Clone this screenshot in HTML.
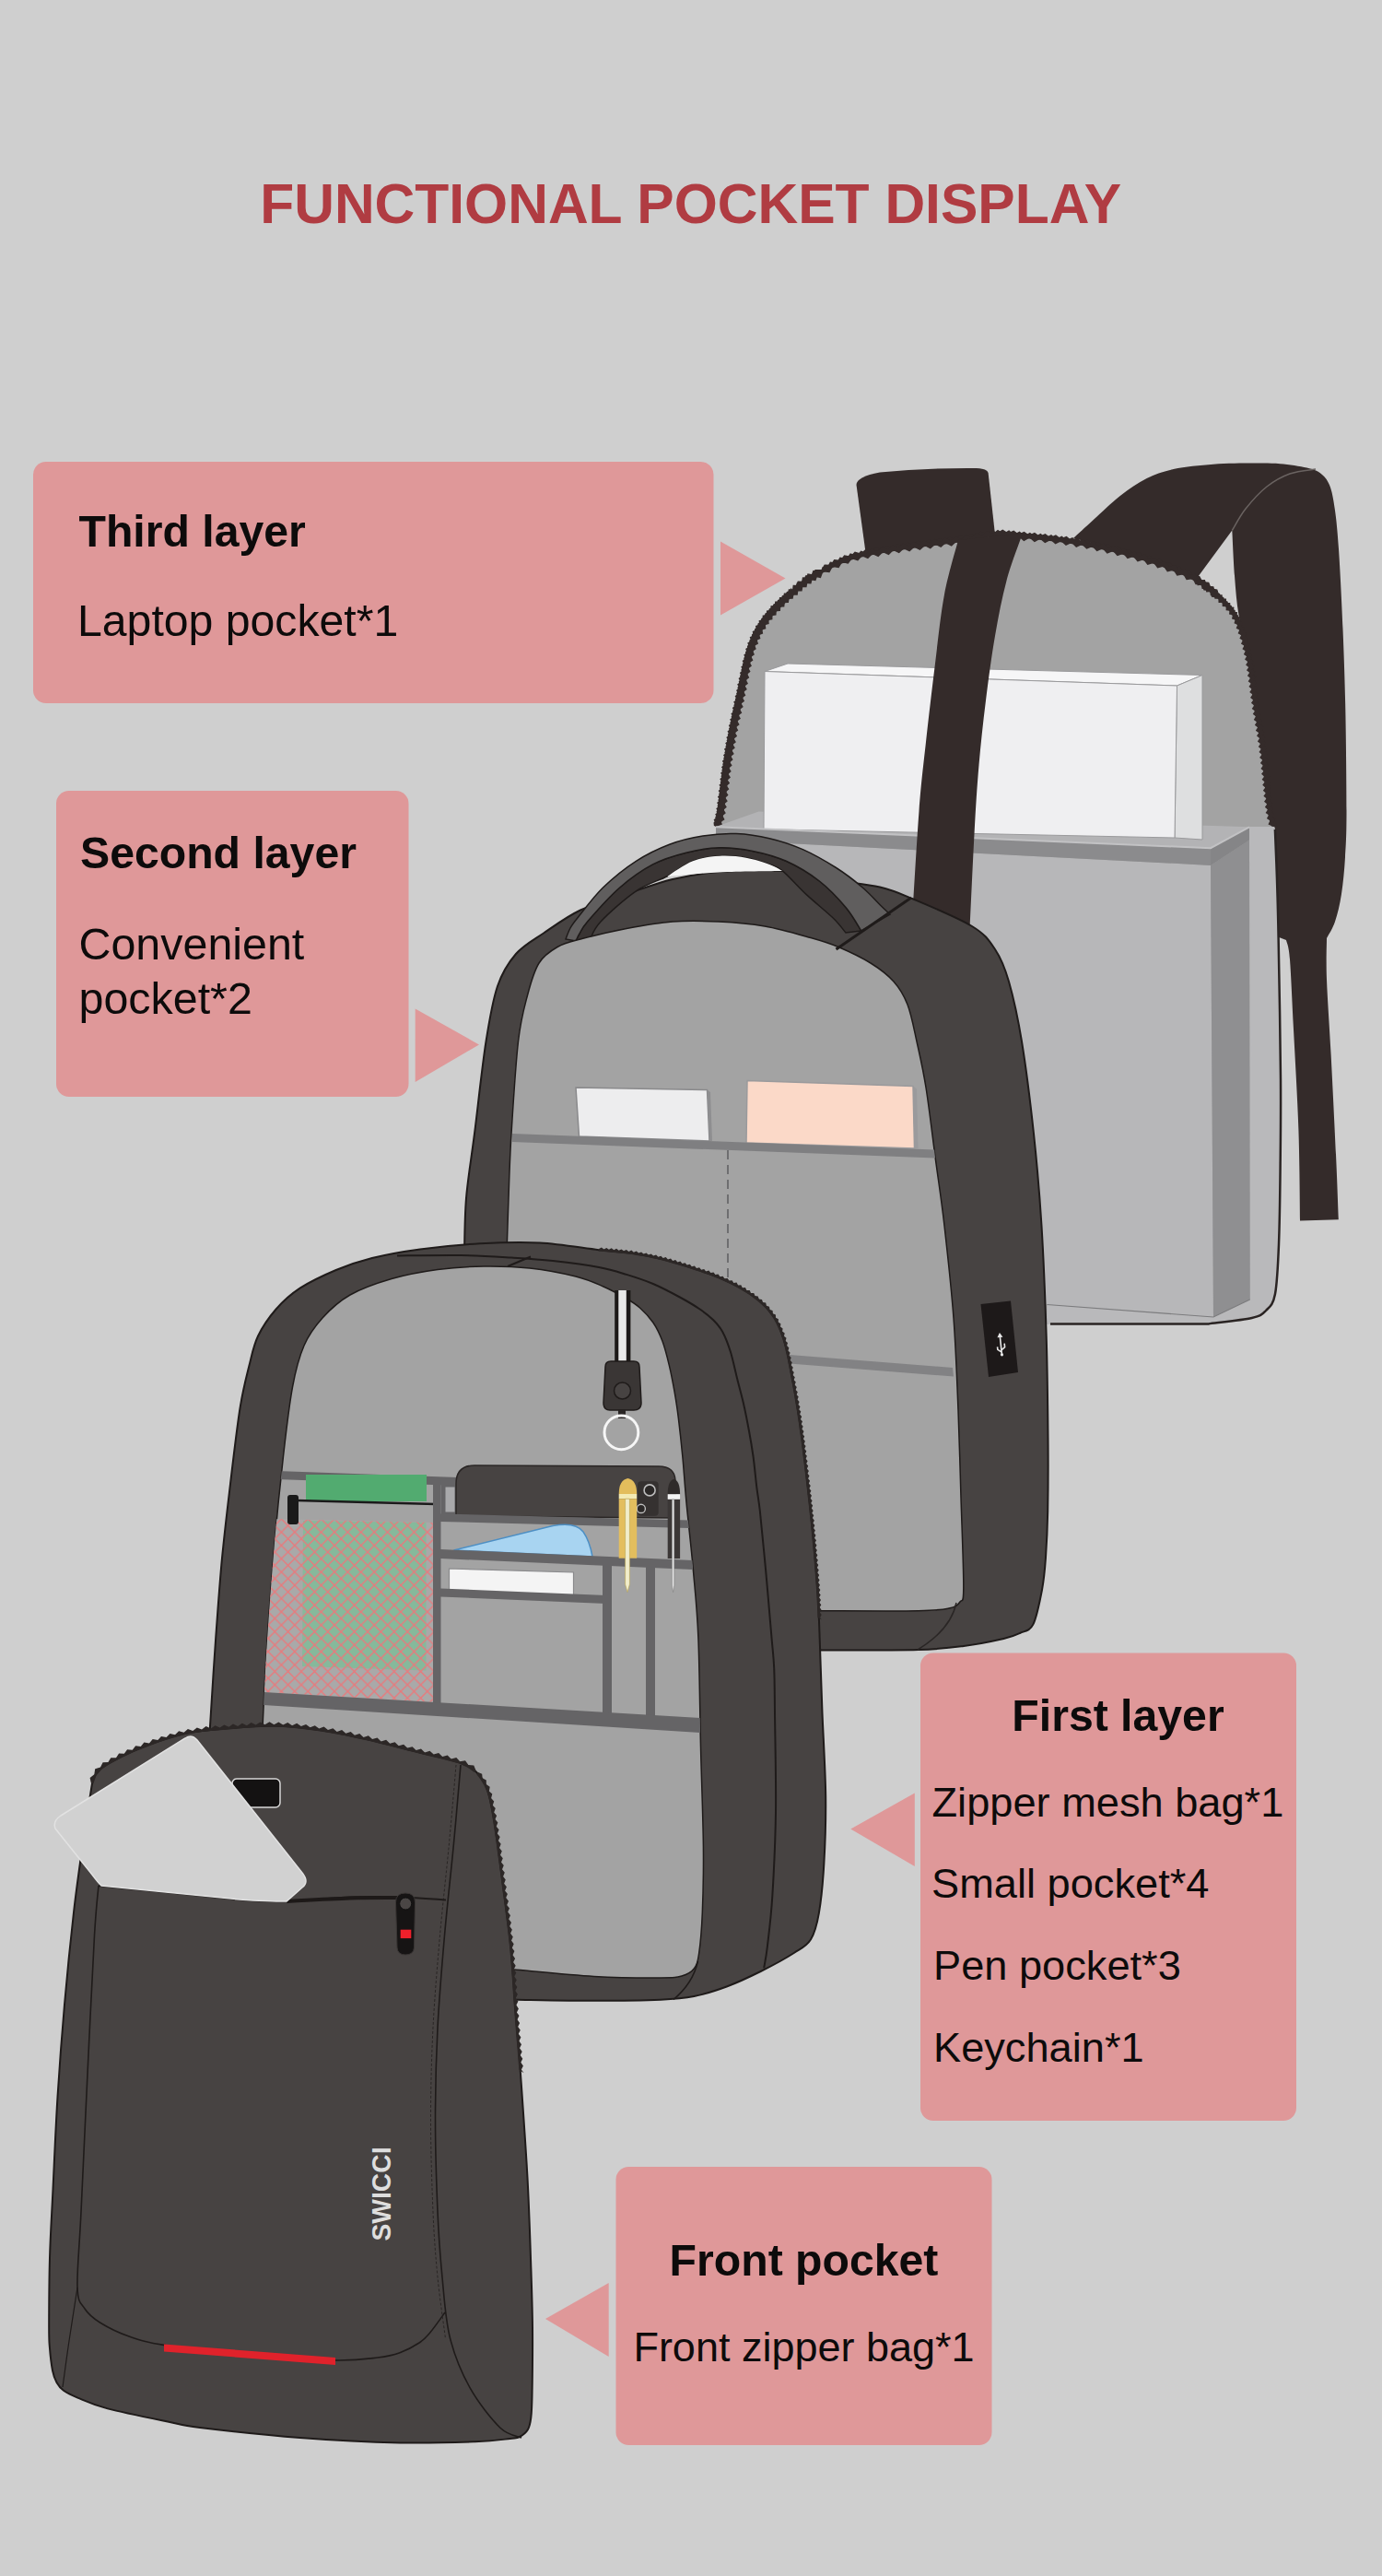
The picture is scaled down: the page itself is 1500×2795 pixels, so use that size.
<!DOCTYPE html>
<html lang="en"><head><meta charset="utf-8"><title>Functional pocket display</title>
<style>
html,body{margin:0;padding:0;background:#cfcfcf;}
body{width:1500px;height:2795px;overflow:hidden;font-family:"Liberation Sans",sans-serif;}
svg{display:block}
text{font-family:"Liberation Sans",sans-serif;}
.b{font-weight:700}
</style></head><body>
<svg width="1500" height="2795" viewBox="0 0 1500 2795">
<rect width="1500" height="2795" fill="#cfcfcf"/>
<g id="third">
<path d="M929.5 526Q930 517 955 512.5Q1005 507.5 1060 508Q1071.5 508.5 1072.6 513L1080 580L940 603Z" fill="#342b2a"/>
<path d="M1165 584C1168.6 580.7 1178.3 571.7 1186.8 564C1195.3 556.3 1206.1 545.4 1215.8 537.9C1225.5 530.4 1235 523.8 1244.7 519C1254.4 514.2 1261.7 511.6 1273.7 509C1285.8 506.4 1302.5 504.8 1317 503.7C1331.5 502.6 1348.4 502.7 1360.5 502.6C1372.6 502.5 1379.8 502.4 1389.4 503.2C1399.1 504 1411.2 505.8 1418.4 507.5C1425.7 509.2 1428.8 510.2 1432.9 513.3C1437 516.4 1440.3 519.8 1443 526.3C1445.7 532.8 1447.1 540.8 1448.8 552.4C1450.5 564 1451.5 574.1 1453 595.8C1454.5 617.5 1456.3 653.7 1457.5 682.6C1458.7 711.5 1459.6 736.5 1460.3 769.4C1461 802.3 1461.5 853.2 1461.5 880C1461.5 906.8 1460.9 915 1460 930C1459.1 945 1457.8 958.3 1456 970C1454.2 981.7 1451.7 992 1449 1000C1446.3 1008 1441.5 1015 1440 1018C1440 1025.5 1439.2 1042 1440 1063C1440.8 1084 1442.9 1112.4 1444.6 1144C1446.3 1175.6 1448.6 1222.8 1450 1252.7C1451.4 1282.6 1452.3 1311.5 1452.8 1323.3L1411 1324.4C1410.7 1307.9 1410.6 1260.2 1409.4 1225.6C1408.2 1191 1405.6 1147.8 1404 1117C1402.4 1086.2 1401.3 1057.2 1400 1041C1398.7 1024.8 1396.7 1023.5 1396 1020L1387.6 1016.7C1387.3 1006.3 1386.6 973.8 1386 954.3C1385.4 934.8 1385.2 912.4 1383.9 900C1382.6 887.6 1380.1 894.5 1377.9 880C1375.7 865.5 1373 831.3 1370.6 812.9C1368.2 794.5 1366.1 786.3 1363.4 769.4C1360.8 752.5 1357.8 728.4 1354.7 711.5C1351.6 694.6 1347 682.5 1344.6 668C1342.1 653.5 1341.2 640.1 1340 624.7C1338.8 609.3 1337.8 583.7 1337.3 575.5L1296.8 630.5C1290.7 627.5 1274.5 618.2 1260 612.5C1245.5 606.8 1225.8 600.8 1210 596C1194.2 591.2 1172.5 586 1165 584Z" fill="#342b2a"/>
<path d="M1337.3 575.5C1339.8 571.6 1345.7 559.9 1352 552C1358.3 544.1 1367 534.3 1375 528C1383 521.7 1391.2 517.2 1400 514C1408.8 510.8 1423.3 509.8 1428 509" fill="none" stroke="#6a6361" stroke-width="1.5"/>
<path d="M778 897C778.8 894.2 780.7 891.2 782.5 880C784.3 868.8 786.8 845 789 830C791.2 815 793.6 802.5 796 790C798.4 777.5 800.8 767.5 803.5 755C806.2 742.5 809.4 725 812 714.7C814.6 704.4 816.6 699.3 819.2 693C821.9 686.7 824.8 681.9 827.9 677.1C831 672.3 834.1 668.5 838 664.1C841.9 659.8 846.6 655.1 851 651C855.4 646.9 859.5 643.4 864.1 639.5C868.7 635.6 873.7 631.2 878.5 627.9C883.3 624.6 888.2 622.1 893 619.5C897.8 616.9 902.7 614.2 907.5 612C912.3 609.8 916.6 607.8 922 606C927.4 604.2 929.2 603.6 940 601.5C950.8 599.4 970 596 986.8 593.5C1003.6 591 1025.5 588.8 1041 586.5C1056.5 584.2 1068.5 580.8 1080 580C1091.5 579.2 1096.7 580.8 1110 582C1123.3 583.2 1143.3 584.9 1160 587.5C1176.7 590.1 1193.3 593.3 1210 597.5C1226.7 601.7 1245 607.1 1260 612.5C1275 617.9 1289.2 623.8 1300 630C1310.8 636.2 1317.9 642.9 1325 650C1332.1 657.1 1337.5 662.2 1342.5 672.5C1347.5 682.8 1351.2 695.4 1354.7 711.5C1358.2 727.6 1360.8 752.5 1363.4 769.4C1366.1 786.3 1368.2 794.5 1370.6 812.9C1373 831.3 1375.7 865.5 1377.9 880C1380.1 894.5 1382.6 887.6 1383.9 900C1385.2 912.4 1385.4 934.8 1386 954.3C1386.6 973.8 1386.9 980.6 1387.6 1016.7C1388.3 1052.8 1389.7 1129.3 1390 1171C1390.3 1212.7 1389.9 1237.2 1389.6 1267C1389.3 1296.8 1388.9 1327.2 1388 1350C1387.1 1372.8 1386.3 1392 1384 1404C1381.7 1416 1378.2 1417.7 1374 1422C1369.8 1426.3 1369.2 1427.6 1358.8 1430C1348.4 1432.4 1319.6 1435.3 1311.8 1436.4L1140 1436.4L778 1436Z" fill="#a3a3a3"/>
<clipPath id="cb3"><path d="M778 897C778.8 894.2 780.7 891.2 782.5 880C784.3 868.8 786.8 845 789 830C791.2 815 793.6 802.5 796 790C798.4 777.5 800.8 767.5 803.5 755C806.2 742.5 809.4 725 812 714.7C814.6 704.4 816.6 699.3 819.2 693C821.9 686.7 824.8 681.9 827.9 677.1C831 672.3 834.1 668.5 838 664.1C841.9 659.8 846.6 655.1 851 651C855.4 646.9 859.5 643.4 864.1 639.5C868.7 635.6 873.7 631.2 878.5 627.9C883.3 624.6 888.2 622.1 893 619.5C897.8 616.9 902.7 614.2 907.5 612C912.3 609.8 916.6 607.8 922 606C927.4 604.2 929.2 603.6 940 601.5C950.8 599.4 970 596 986.8 593.5C1003.6 591 1025.5 588.8 1041 586.5C1056.5 584.2 1068.5 580.8 1080 580C1091.5 579.2 1096.7 580.8 1110 582C1123.3 583.2 1143.3 584.9 1160 587.5C1176.7 590.1 1193.3 593.3 1210 597.5C1226.7 601.7 1245 607.1 1260 612.5C1275 617.9 1289.2 623.8 1300 630C1310.8 636.2 1317.9 642.9 1325 650C1332.1 657.1 1337.5 662.2 1342.5 672.5C1347.5 682.8 1351.2 695.4 1354.7 711.5C1358.2 727.6 1360.8 752.5 1363.4 769.4C1366.1 786.3 1368.2 794.5 1370.6 812.9C1373 831.3 1375.7 865.5 1377.9 880C1380.1 894.5 1382.6 887.6 1383.9 900C1385.2 912.4 1385.4 934.8 1386 954.3C1386.6 973.8 1386.9 980.6 1387.6 1016.7C1388.3 1052.8 1389.7 1129.3 1390 1171C1390.3 1212.7 1389.9 1237.2 1389.6 1267C1389.3 1296.8 1388.9 1327.2 1388 1350C1387.1 1372.8 1386.3 1392 1384 1404C1381.7 1416 1378.2 1417.7 1374 1422C1369.8 1426.3 1369.2 1427.6 1358.8 1430C1348.4 1432.4 1319.6 1435.3 1311.8 1436.4L1140 1436.4L778 1436Z"/></clipPath>
<path d="M774.9 895.9L774.5 892.4L777 889.9L776.2 886.5L778.5 883.9L777.5 880.5L779.6 877.6L778.5 874.3L780.5 871.3L779.3 867.9L781.3 864.9L780.1 861.4L782.1 858.4L780.9 855L782.9 852L781.7 848.5L783.7 845.5L782.5 842.1L784.5 839L783.3 835.6L785.3 832.6L784.2 829.1L786.3 826.1L785.2 822.6L787.3 819.6L786.3 816.2L788.4 813.2L787.4 809.7L789.5 806.8L788.6 803.3L790.7 800.4L789.7 796.9L791.9 794L791 790.5L793.2 787.6L792.2 784L794.5 781.2L793.6 777.6L795.8 774.8L795 771.2L797.2 768.4L796.4 764.9L798.6 762.1L797.8 758.6L800 755.7L799.1 752.2L801.3 749.4L800.4 745.9L802.6 743L801.7 739.5L803.9 736.7L803 733.2L805.2 730.3L804.3 726.8L806.6 723.9L805.7 720.4L808 717.5L807.2 713.9L809.6 711.1L808.9 707.5L811.4 704.7L810.9 701L813.5 698.4L813.3 694.7L816 692.2L815.9 688.5L818.8 686.1L819 682.4L822.1 680.2L822.5 676.6L825.6 674.6L826.3 670.9L829.6 669.1L830.4 665.5L833.8 664L834.8 660.4L838.2 659L839.4 655.5L842.9 654.3L844.1 650.9L847.6 649.8L848.9 646.3L852.4 645.3L853.9 641.9L857.4 641L858.8 637.6L861.6 645.9L856.8 650.1L852.1 654.5L847.4 658.9L843 663.5L838.7 668.2L834.7 673.1L831.1 678.2L827.7 683.6L824.6 689.1L822 694.8L819.6 700.7L817.6 706.6L815.9 712.8L814.3 719L812.9 725.3L811.6 731.6L810.3 738L809 744.3L807.7 750.7L806.4 757.1L805 763.5L803.6 769.8L802.2 776.2L800.8 782.5L799.5 788.8L798.3 795.2L797.1 801.6L795.9 807.9L794.8 814.3L793.7 820.7L792.7 827.1L791.8 833.5L790.9 839.9L790.1 846.3L789.3 852.7L788.5 859.2L787.7 865.7L786.9 872.1L786 878.6L784.8 885.2L783.2 891.8L781.1 898.1Z" fill="#342b2a"/>
<path d="M862.8 638L865 631.7L871.7 630.6L874.3 624.2L881.2 623.8L884.6 617.9L891.4 618.1L894.8 612.4L901.6 612.7L905.3 607.1L912.1 607.7L916.3 602.3L923 603.6L927.8 598.6L934.3 600.6L939.3 596.1L945.7 598.4L950.7 594L957 596.3L962.1 592L968.3 594.4L973.5 590.1L979.7 592.6L984.9 588.3L991.1 590.9L996.4 586.7L1002.6 589.4L1007.8 585.3L1014 587.9L1019.3 583.9L1025.4 586.5L1030.6 582.5L1036.8 585.1L1041.9 580.9L1048.1 583.3L1053 578.9L1059.3 581.2L1064.4 576.7L1070.7 579.1L1076.1 574.9L1082.4 577.9L1088.3 574.4L1094.1 578.2L1100.3 575.5L1105.6 579.5L1111.6 576.7L1117 580.6L1123 577.8L1128.4 581.7L1134.5 578.9L1139.9 582.9L1146 580.2L1151.4 584.3L1157.6 581.7L1162.8 585.9L1169.1 583.5L1174.2 587.8L1180.5 585.5L1185.5 590L1191.9 587.8L1196.8 592.3L1203.2 590.3L1208.1 595L1214.5 593.1L1219.2 597.8L1225.7 596.1L1230.4 600.9L1236.9 599.3L1241.4 604.2L1248 602.7L1252.4 607.7L1259 606.4L1263.3 611.6L1269.9 610.4L1274.1 615.7L1280.8 614.7L1284.8 620.2L1291.5 619.5L1295.3 625.2L1302.1 625L1305.4 631L1312.2 631.8L1314.7 638.2L1321.3 639.5L1323.3 645.9L1320.6 648.8L1312.1 641.2L1303.2 634.4L1293.4 628.7L1283.2 623.8L1272.6 619.4L1261.9 615.3L1251.1 611.5L1240.2 608L1229.2 604.7L1218.2 601.7L1207.1 598.8L1195.9 596.2L1184.7 593.9L1173.5 591.8L1162.2 589.9L1150.8 588.2L1139.5 586.9L1128 585.7L1116.6 584.6L1105.1 583.5L1093.7 582.2L1082.5 581.9L1071.3 583L1060.1 585.1L1048.7 587.3L1037.3 589L1025.9 590.5L1014.5 591.9L1003.1 593.3L991.7 594.8L980.3 596.5L969 598.3L957.7 600.3L946.4 602.3L935.2 604.5L924.2 607.4L913.7 611.4L903.4 616.2L893.3 621.6L883.3 627.2L874.2 633.7L865.4 641Z" fill="#342b2a"/>
<path d="M1301.2 628.4L1304.6 629L1306 632L1309.3 632.5L1310.8 635.6L1314.2 636.2L1315.6 639.3L1319 639.9L1320.3 643.1L1323.7 643.9L1324.9 647.1L1328.2 648.1L1329.2 651.4L1332.5 652.4L1333.4 655.8L1336.7 657L1337.4 660.5L1340.6 662L1341 665.6L1343.9 667.5L1344 671L1346.7 673.1L1346.5 676.5L1349.1 678.8L1348.7 682.2L1351.2 684.6L1350.7 688L1353.1 690.4L1352.4 693.8L1354.8 696.3L1354 699.6L1356.3 702.2L1355.4 705.5L1357.6 708.1L1356.7 711.4L1358.9 714.1L1357.9 717.3L1360 720.1L1358.9 723.3L1361 726L1359.8 729.3L1361.9 732L1360.7 735.2L1362.7 738L1361.5 741.2L1363.5 743.9L1362.3 747.1L1364.3 749.9L1363.1 753.1L1365.1 755.8L1363.9 759L1365.9 761.7L1364.7 764.9L1366.8 767.6L1365.7 770.8L1367.7 773.5L1366.6 776.7L1368.7 779.4L1367.7 782.6L1369.8 785.3L1368.7 788.5L1370.9 791.2L1369.8 794.4L1371.9 797.1L1370.8 800.4L1372.8 803.1L1371.7 806.3L1373.7 809.1L1372.5 812.3L1374.5 815.1L1373.3 818.3L1375.2 821.1L1373.9 824.3L1375.9 827.1L1374.6 830.3L1376.5 833.1L1375.2 836.2L1377.1 839.1L1375.8 842.2L1377.7 845L1376.4 848.2L1378.2 851L1377 854.1L1378.8 857L1377.6 860.1L1379.5 862.9L1378.2 866.1L1380.1 868.9L1378.9 872L1380.8 874.8L1379.6 877.9L1381.6 880.6L1380.6 883.7L1382.7 886.2L1381.9 889.4L1384.2 891.6L1383.8 894.8L1386.5 896.8L1380.1 896.4L1378 890.5L1376.6 884.5L1375.7 878.5L1374.9 872.5L1374.2 866.5L1373.6 860.5L1373 854.5L1372.4 848.6L1371.8 842.6L1371.2 836.6L1370.6 830.7L1370 824.7L1369.3 818.8L1368.6 812.8L1367.8 806.9L1366.9 801L1365.9 795.1L1364.8 789.2L1363.7 783.3L1362.7 777.4L1361.7 771.5L1360.8 765.5L1359.9 759.5L1359.1 753.6L1358.3 747.6L1357.6 741.7L1356.7 735.8L1355.9 729.8L1355 723.9L1354 718.1L1352.8 712.2L1351.5 706.4L1350.1 700.6L1348.6 694.9L1346.9 689.2L1345 683.6L1342.8 678.1L1340.4 672.8L1337.6 667.7L1334.3 662.9L1330.5 658.5L1326.4 654.2L1322.2 650L1317.7 646.2L1313.1 642.4L1308.4 638.8L1303.6 635.2L1298.8 631.6Z" fill="#342b2a"/>
<clipPath id="cb3"><path d="M778 897C778.8 894.2 780.7 891.2 782.5 880C784.3 868.8 786.8 845 789 830C791.2 815 793.6 802.5 796 790C798.4 777.5 800.8 767.5 803.5 755C806.2 742.5 809.4 725 812 714.7C814.6 704.4 816.6 699.3 819.2 693C821.9 686.7 824.8 681.9 827.9 677.1C831 672.3 834.1 668.5 838 664.1C841.9 659.8 846.6 655.1 851 651C855.4 646.9 859.5 643.4 864.1 639.5C868.7 635.6 873.7 631.2 878.5 627.9C883.3 624.6 888.2 622.1 893 619.5C897.8 616.9 902.7 614.2 907.5 612C912.3 609.8 916.6 607.8 922 606C927.4 604.2 929.2 603.6 940 601.5C950.8 599.4 970 596 986.8 593.5C1003.6 591 1025.5 588.8 1041 586.5C1056.5 584.2 1068.5 580.8 1080 580C1091.5 579.2 1096.7 580.8 1110 582C1123.3 583.2 1143.3 584.9 1160 587.5C1176.7 590.1 1193.3 593.3 1210 597.5C1226.7 601.7 1245 607.1 1260 612.5C1275 617.9 1289.2 623.8 1300 630C1310.8 636.2 1317.9 642.9 1325 650C1332.1 657.1 1337.5 662.2 1342.5 672.5C1347.5 682.8 1351.2 695.4 1354.7 711.5C1358.2 727.6 1360.8 752.5 1363.4 769.4C1366.1 786.3 1368.2 794.5 1370.6 812.9C1373 831.3 1375.7 865.5 1377.9 880C1380.1 894.5 1382.6 887.6 1383.9 900C1385.2 912.4 1385.4 934.8 1386 954.3C1386.6 973.8 1386.9 980.6 1387.6 1016.7C1388.3 1052.8 1389.7 1129.3 1390 1171C1390.3 1212.7 1389.9 1237.2 1389.6 1267C1389.3 1296.8 1388.9 1327.2 1388 1350C1387.1 1372.8 1386.3 1392 1384 1404C1381.7 1416 1378.2 1417.7 1374 1422C1369.8 1426.3 1369.2 1427.6 1358.8 1430C1348.4 1432.4 1319.6 1435.3 1311.8 1436.4L1140 1436.4L778 1436Z"/></clipPath>
<path d="M776.7 896.5L780.4 894.4L778.7 890.4L782.3 888.1L780.3 884.3L783.6 881.6L781.4 877.9L784.6 875.1L782.3 871.5L785.5 868.7L783.1 865.1L786.3 862.2L783.9 858.6L787.1 855.7L784.7 852.2L787.9 849.3L785.5 845.7L788.7 842.9L786.3 839.3L789.5 836.4L787.2 832.8L790.4 830L788.1 826.4L791.4 823.6L789.2 819.9L792.5 817.2L790.2 813.5L793.6 810.8L791.4 807.1L794.7 804.4L792.5 800.7L795.9 798L793.7 794.3L797.1 791.6L795 787.9L798.4 785.3L796.3 781.5L799.7 778.9L797.6 775.2L801.1 772.6L799 768.8L802.5 766.2L800.4 762.5L803.9 759.9L801.8 756.1L805.2 753.5L803.2 749.8L806.6 747.1L804.4 743.4L807.8 740.8L805.7 737L809.1 734.4L807 730.7L810.4 728L808.4 724.3L811.8 721.7L809.8 717.9L813.3 715.4L811.4 711.6L814.9 709.2L813.2 705.3L816.8 703L815.3 699L819.1 697L817.7 692.9L821.6 691.1L820.5 687L824.5 685.4L823.7 681.2L827.8 679.9L827.2 675.6L831.3 674.6L831 670.3L835.2 669.5L835.2 665.2L839.4 664.6L839.6 660.3L843.9 659.9L844.2 655.6L848.4 655.4L848.9 651.1L853.1 650.9L853.7 646.7L857.9 646.6L858.6 642.4L862.9 642.4L863.5 638.1L867.8 638.2L868.5 633.9L872.8 634L873.6 629.8L877.9 630.1L878.9 625.9L883.2 626.6L884.6 622.5L888.8 623.4L890.3 619.4" fill="none" stroke="#342b2a" stroke-width="6.5" stroke-linejoin="miter"/>
<path d="M892.1 617.7L899 618.6L902.3 612.3L909.2 613.4L912.8 607.4L919.6 608.9L923.8 603.3L930.4 605.6L935.1 600.4L941.5 603.2L946.4 598.3L952.8 601.2L957.8 596.2L964.1 599.2L969.1 594.3L975.4 597.3L980.5 592.4L986.8 595.5L991.9 590.8L998.1 594L1003.3 589.3L1009.5 592.5L1014.7 587.8L1020.9 591.1L1026.1 586.5L1032.4 589.7L1037.5 585L1043.8 588.1L1048.8 583.2L1055.2 586.1L1060.1 581L1066.5 583.9L1071.5 579L1077.7 582.2L1083.1 577.8L1088.9 581.9L1094.9 578.3L1100.2 582.9L1106.3 579.6L1111.6 584.2L1117.7 580.7L1123.1 585.2L1129.2 581.8L1134.5 586.3L1140.7 583L1145.9 587.6L1152.1 584.4L1157.3 589.1L1163.6 586L1168.6 590.9L1174.9 588L1179.9 592.9L1186.3 590.1L1191.1 595.2L1197.6 592.5L1202.3 597.7L1208.8 595.1L1213.4 600.4L1220 598L1224.5 603.4L1231.1 601.1L1235.5 606.6L1242.1 604.4L1246.4 610L1253.1 608L1257.3 613.6L1264 611.8L1268 617.6L1274.8 616L1278.6 621.9L1285.5 620.5L1289 626.5L1296 625.5L1299.1 631.8L1306.1 631.5L1308.3 638.1L1315.3 638.7L1317 645.5L1323.9 646.4" fill="none" stroke="#342b2a" stroke-width="5" stroke-linejoin="miter"/>
<path d="M1300.9 628.9L1301.5 632.9L1305.6 632.5L1306.4 636.5L1310.4 636.1L1311.1 640.1L1315.2 639.8L1315.8 643.8L1319.9 643.6L1320.4 647.6L1324.5 647.6L1324.7 651.7L1328.8 651.8L1328.9 655.9L1333 656.2L1332.9 660.3L1337 660.8L1336.5 664.9L1340.5 665.9L1339.6 669.9L1343.4 671.2L1342.2 675.1L1346 676.8L1344.5 680.6L1348.2 682.4L1346.5 686.2L1350.1 688.2L1348.3 691.9L1351.8 694L1349.9 697.6L1353.4 699.8L1351.4 703.4L1354.8 705.6L1352.8 709.2L1356.1 711.5L1354 715L1357.3 717.5L1355.1 720.9L1358.3 723.4L1356 726.8L1359.2 729.3L1356.9 732.7L1360.1 735.3L1357.7 738.7L1360.9 741.2L1358.5 744.6L1361.7 747.2L1359.3 750.5L1362.5 753.1L1360.1 756.5L1363.3 759.1L1361 762.4L1364.2 765L1361.8 768.4L1365.1 770.9L1362.8 774.3L1366 776.8L1363.8 780.3L1367.1 782.7L1364.9 786.2L1368.2 788.6L1365.9 792.1L1369.2 794.5L1367 798L1370.2 800.5L1367.9 803.9L1371.1 806.4L1368.8 809.8L1371.9 812.4L1369.5 815.7L1372.7 818.4L1370.2 821.7L1373.3 824.3L1370.9 827.6L1374 830.3L1371.5 833.6L1374.6 836.3L1372.1 839.5L1375.2 842.3L1372.7 845.5L1375.8 848.2L1373.3 851.5L1376.4 854.2L1373.9 857.5L1377 860.2L1374.5 863.4L1377.6 866.1L1375.1 869.4L1378.3 872.1L1375.9 875.4L1379 878L1376.7 881.4L1380 883.8L1377.9 887.4L1381.3 889.6L1379.5 893.3L1383.2 895L1382 898.9" fill="none" stroke="#342b2a" stroke-width="4.5" stroke-linejoin="miter"/>
<path clip-path="url(#cb3)" d="M1356 897L1500 897L1500 1500L1136 1500L1136.4 1415.5L1317 1429L1356.7 1410Z" fill="#b9b9bb"/>
<path d="M1383.9 900C1384.2 909 1385.4 934.8 1386 954.3C1386.6 973.8 1386.9 980.6 1387.6 1016.7C1388.3 1052.8 1389.7 1129.3 1390 1171C1390.3 1212.7 1389.9 1237.2 1389.6 1267C1389.3 1296.8 1388.9 1327.2 1388 1350C1387.1 1372.8 1386.3 1392 1384 1404C1381.7 1416 1378.2 1417.7 1374 1422C1369.8 1426.3 1369.2 1427.6 1358.8 1430C1348.4 1432.4 1319.6 1435.3 1311.8 1436.4L1140 1436.4" fill="none" stroke="#2a2423" stroke-width="2.5"/>
<path d="M777 897L823.5 880.6L1356 897.3L1314 920.2Z" fill="#b3b3b5"/>
<path d="M830 728.5L855 720L1305 732.5L1277.5 744Z" fill="#f6f6f7" stroke="#9a9a9c" stroke-width="1"/>
<path d="M1277.5 744L1305 732.5L1305 911L1275 909Z" fill="#dedfe0" stroke="#9a9a9c" stroke-width="1"/>
<path d="M830 728.5L1277.5 744L1275 909L829 899.7Z" fill="#efeff1" stroke="#9a9a9c" stroke-width="1"/>
<path d="M777 911L1314 938.9L1317 1429L1136.4 1415.5L778 1405Z" fill="#b7b7b9"/>
<path d="M1314 938.9L1356 911.6L1356.7 1410L1317 1429Z" fill="#8f8f91"/>
<path d="M777 897.3L1314 920.2L1314 938.9L777 911Z" fill="#8b8b8d"/>
<path d="M1314 920.2L1356 897.3L1356 911.6L1314 938.9Z" fill="#858587"/>
<path d="M777 897.3L1314 920.2L1356 897.3" fill="none" stroke="#c2c2c4" stroke-width="2"/>
<path d="M1136.4 1415.5L1317 1429L1356.7 1410" fill="none" stroke="#7c7c7e" stroke-width="1.2"/>
<path d="M1040 586C1037.5 595.8 1029.2 622.7 1025 645C1020.8 667.3 1018.3 693.3 1015 720C1011.7 746.7 1007.9 778.3 1005 805C1002.1 831.7 1000 847.5 997.5 880C995 912.5 991.2 980 990 1000L1052 1020C1052.9 1000.8 1055.8 936.7 1057.5 905C1059.2 873.3 1060.4 854.2 1062.5 830C1064.6 805.8 1067.1 783.3 1070 760C1072.9 736.7 1076.2 711.7 1080 690C1083.8 668.3 1087.5 648.6 1092.5 630C1097.5 611.4 1107.1 587.1 1110 578.5Z" fill="#342b2a"/>
</g>
<g id="second">
<path d="M504 1360C504.3 1350 504.2 1321.7 506 1300C507.8 1278.3 511.4 1258.3 515 1230C518.6 1201.7 523.3 1156.7 527.5 1130C531.7 1103.3 534.6 1085.8 540 1070C545.4 1054.2 551.7 1044.6 560 1035C568.3 1025.4 578.3 1020.4 590 1012.5C601.7 1004.6 615 994.6 630 987.5C645 980.4 663.3 975.6 680 970C696.7 964.4 713.3 958 730 954C746.7 950 760 947.5 780 946C800 944.5 829.2 943.5 850 945C870.8 946.5 887.5 952.1 905 955C922.5 957.9 940.8 959.2 955 962.5C969.2 965.8 973.3 967.9 990 975C1006.7 982.1 1040 995.8 1055 1005C1070 1014.2 1073.3 1020 1080 1030C1086.7 1040 1090.2 1048.3 1095 1065C1099.8 1081.7 1104.5 1102.5 1109 1130C1113.5 1157.5 1118.4 1196.7 1122 1230C1125.6 1263.3 1128.2 1293.3 1130.5 1330C1132.8 1366.7 1134.5 1411.7 1135.7 1450C1136.9 1488.3 1137.2 1528.3 1137.5 1560C1137.8 1591.7 1137.6 1618.3 1137.2 1640C1136.8 1661.7 1136 1675.8 1135 1690C1134 1704.2 1133.3 1712.9 1131 1725C1128.7 1737.1 1125.3 1754.8 1121.3 1762.6C1117.3 1770.4 1112.3 1769.4 1107 1772C1101.7 1774.6 1099.6 1775.7 1089.4 1778C1079.2 1780.3 1061.4 1784 1046 1786C1030.6 1788 1022.6 1789.2 996.8 1790C971 1790.8 908.6 1790.5 891 1790.6C859.2 1790.5 731.8 1855.1 700 1790C668.2 1724.9 732.7 1465 700 1400C667.3 1335 536.7 1400 504 1400Z" fill="#474342" stroke="#1f1b1a" stroke-width="2"/>
<path d="M625 1021C625.7 1019.7 626.8 1016.6 629 1013C631.2 1009.4 630.8 1007.7 638 999.4C645.2 991.1 660.6 973.5 672.4 963.2C684.1 953 696.5 944.2 708.5 937.9C720.5 931.6 732.6 928.2 744.7 925.2C756.8 922.2 768.9 920.1 780.9 919.8C792.9 919.5 804.9 921 817 923.4C829.1 925.8 841.2 928.9 853.3 934.3C865.4 939.7 878.5 947.6 889.4 956C900.2 964.4 910.8 975.9 918.4 984.9C926 993.9 932 1005.8 934.7 1010L918 1012C915.6 1009.3 911.1 1002.7 903.9 995.8C896.7 988.9 884 978.8 875 970.4C866 962 856.2 950.5 849.6 945.1C843 939.7 841.8 940.3 835.2 937.9C828.6 935.5 818.8 932.2 809.8 930.7C800.8 929.2 790.5 928.2 780.9 928.8C771.3 929.4 761.4 930.7 752 934.3C742.6 937.9 735.1 945.1 724.8 950.5C714.5 955.9 702.5 958.5 690.4 966.8C678.3 975 660.4 991.1 652 1000C643.6 1008.9 642 1016.7 640 1020Z" fill="#393433" stroke="#1f1b1a" stroke-width="1.5"/>
<path d="M614 1019C614.8 1017 616.8 1010.9 619 1007C621.2 1003.1 621.1 1003.1 627 995.8C632.9 988.5 643.7 973.5 654.3 963.2C664.9 953 678.3 942.1 690.4 934.3C702.5 926.5 714.5 920.8 726.6 916.2C738.7 911.7 750.7 908.9 762.8 907C774.9 905.1 786.9 904.1 799 904.6C811.1 905.1 823.2 906.9 835.2 909.7C847.2 912.5 859.2 916.3 871.3 921.6C883.3 926.9 896.6 934.6 907.5 941.5C918.4 948.4 928.4 956.3 936.5 963.2C944.6 970.1 951.5 978.2 956.4 983C961.3 987.8 964.4 990.5 966 992L934.7 1010C932 1005.8 926 993.9 918.4 984.9C910.8 975.9 900.2 964.4 889.4 956C878.5 947.6 865.4 939.7 853.3 934.3C841.2 928.9 829.1 925.8 817 923.4C804.9 921 792.9 919.5 780.9 919.8C768.9 920.1 756.8 922.2 744.7 925.2C732.6 928.2 720.5 931.6 708.5 937.9C696.5 944.2 684.1 953 672.4 963.2C660.6 973.5 645.2 991.1 638 999.4C630.8 1007.7 631.2 1009.4 629 1013C626.8 1016.6 625.7 1019.7 625 1021Z" fill="#605e5e" stroke="#1f1b1a" stroke-width="1.5"/>
<path d="M724.8 950.5C729.3 947.8 742.6 937.9 752 934.3C761.4 930.7 771.3 929.4 780.9 928.8C790.5 928.2 800.8 929.2 809.8 930.7C818.8 932.2 828.6 935.5 835.2 937.9C841.8 940.3 847.2 943.9 849.6 945.1C838.1 945.3 801.7 945.5 780.9 946.5C760.1 947.5 734.1 950.2 724.8 951Z" fill="#f4f4f4"/>
<path d="M550 1360C550.3 1350 551.2 1321.7 552 1300C552.8 1278.3 553.2 1258.3 555 1230C556.8 1201.7 559.6 1155 562.5 1130C565.4 1105 568.8 1094.2 572.5 1080C576.2 1065.8 579.6 1053.8 585 1045C590.4 1036.2 597.5 1031.8 605 1027.5C612.5 1023.2 617.5 1022.3 630 1019C642.5 1015.7 663.3 1010.7 680 1007.5C696.7 1004.3 713.3 1001.2 730 1000C746.7 998.8 763.3 999.2 780 1000C796.7 1000.8 813.3 1002.1 830 1005C846.7 1007.9 866.7 1013.8 880 1017.5C893.3 1021.2 899.2 1022.9 910 1027.5C920.8 1032.1 935 1038.8 945 1045C955 1051.2 963.3 1057.5 970 1065C976.7 1072.5 980.8 1079.2 985 1090C989.2 1100.8 991.7 1115 995 1130C998.3 1145 1001.7 1159.2 1005 1180C1008.3 1200.8 1011.7 1230 1015 1255C1018.3 1280 1021.7 1300.8 1025 1330C1028.3 1359.2 1032.5 1396.7 1035 1430C1037.5 1463.3 1038.7 1497.5 1040 1530C1041.3 1562.5 1042 1592.8 1043 1625C1044 1657.2 1046 1704.2 1045.8 1723C1045.6 1741.8 1044.6 1734.3 1042 1738C1039.4 1741.7 1037.5 1743.4 1030 1745C1022.5 1746.6 1020.7 1747.2 997 1747.7C973.3 1748.2 906.2 1747.7 888 1747.7C856.7 1747.7 731.3 1805.7 700 1747.7C668.7 1689.8 725 1458 700 1400C675 1342 575 1400 550 1400Z" fill="#a3a3a3" stroke="#1f1b1a" stroke-width="1.5"/>
<path d="M1038 1739Q1032 1768 996 1790" stroke="#2a2625" stroke-width="1.5" fill="none"/>
<path d="M907.5 1030L989 974" stroke="#1f1b1a" stroke-width="3" fill="none"/>
<path d="M625 1180L767.5 1182.5L770 1238L628.5 1233Z" fill="#ededee" stroke="#8a8a8c" stroke-width="1.5"/>
<path d="M811 1172.5L991 1178.5L992.5 1246L810 1240Z" fill="#fbd9c8" stroke="#9a9a9c" stroke-width="1.5"/>
<path d="M767.5 1182.5L771 1185L773 1238L770 1238Z" fill="#8e8e90"/>
<path d="M991 1178.500L995 1181.500L996.500 1246L992.500 1246Z" fill="#9a9a9c"/>
<path d="M556 1230L1014 1247.5L1015 1256.5L556 1239Z" fill="#7f7f81"/>
<path d="M790 1248V1390" stroke="#6e6e70" stroke-width="2" stroke-dasharray="10 6" fill="none"/>
<path d="M857 1470L1034 1484L1035 1493.5L857 1479.5Z" fill="#828284"/>
<path d="M1064.5 1415L1097 1411.5L1105 1489L1073 1494Z" fill="#1d1919"/>
<g transform="translate(1086.3 1459) rotate(-6)" fill="none" stroke="#e8e8e8" stroke-width="1.6"><path d="M0 -9V10M-4 2V5L0 8M4 -1V3L0 6"/><path d="M-3 -8L0 -13L3 -8Z" fill="#e8e8e8" stroke="none"/><circle cx="0" cy="11" r="1.6" fill="#e8e8e8" stroke="none"/></g>
</g>
<g id="first">
<defs><pattern id="mesh" width="14.4" height="14.4" patternUnits="userSpaceOnUse" x="291" y="1648"><path d="M0 0L14.4 14.4M14.4 0L0 14.4" stroke="#e8797c" stroke-width="1.4" fill="none"/></pattern></defs>
<path d="M226 1900C226.3 1895.5 226.7 1893 228 1873C229.3 1853 231.8 1810.4 234 1780C236.2 1749.6 238.3 1719 241 1690.7C243.7 1662.4 246.8 1637.1 250 1610C253.2 1582.9 257.1 1549.3 260.5 1528C263.9 1506.7 267.1 1495.3 270.3 1482.3C273.6 1469.3 275.1 1460.1 280 1449.8C284.9 1439.5 292 1429.2 299.6 1420.5C307.2 1411.8 314.8 1404.8 325.6 1397.7C336.5 1390.6 351.7 1383.5 364.7 1378C377.7 1372.5 388.6 1368.8 403.8 1365C419 1361.2 436.4 1358 455.9 1355.4C475.4 1352.8 499.3 1350.5 521 1349.3C542.7 1348.1 564.5 1347.3 586 1348.5C607.5 1349.7 633.3 1354.3 650 1356.2C666.7 1358.1 674.1 1358 686.2 1359.8C698.3 1361.6 709.9 1363.9 722.4 1367.1C734.9 1370.3 751.2 1375.8 761 1379C770.8 1382.2 774.3 1383.5 781.3 1386.5C788.3 1389.5 795.8 1392.8 803 1397C810.2 1401.2 818.7 1406.7 824.7 1411.8C830.7 1416.9 835.3 1422.2 839.2 1427.8C843.1 1433.3 845.5 1439.1 847.9 1445.1C850.3 1451.1 851.8 1456 853.7 1464C855.6 1472 857.6 1482.8 859.5 1492.9C861.4 1503 863.4 1513.4 865.2 1524.7C867 1536 868.5 1546 870.5 1560.9C872.5 1575.8 875 1596.4 877 1614.3C879 1632.2 881 1650.4 882.7 1668.5C884.4 1686.6 886.2 1707.7 887.2 1722.8C888.2 1737.9 888.4 1744.5 889 1759C889.6 1773.5 890.2 1793.4 890.8 1810C891.4 1826.6 891.6 1835.3 892.5 1858.5C893.4 1881.7 895.9 1921.9 896.2 1949C896.5 1976.1 895.6 2000.2 894.4 2021.3C893.2 2042.4 891.3 2061.7 888.9 2075.6C886.5 2089.5 884.4 2097.3 879.9 2104.5C875.4 2111.7 870.8 2113.2 861.8 2119C852.8 2124.8 837.7 2133 825.6 2139C813.5 2145 801.5 2150.7 789.4 2155.2C777.3 2159.7 765.4 2163.6 753.3 2166C741.2 2168.4 735.1 2168.9 717 2169.7C698.9 2170.5 670.6 2170.8 644.7 2170.8C618.8 2170.8 575.4 2169.9 561.5 2169.7L520 2169.7C516.7 2141.4 520 2035 500 2000C480 1965 440 1966.7 400 1960C360 1953.3 283.3 1960 260 1960Z" fill="#474342" stroke="#1f1b1a" stroke-width="2"/>
<path d="M650.1 1354.9L652.9 1353.5L655.5 1355.4L658.3 1353.9L660.9 1355.8L663.7 1354.3L666.3 1356.3L669.1 1354.8L671.6 1356.8L674.5 1355.4L677 1357.3L679.9 1355.9L682.4 1358L685.4 1356.6L687.8 1358.7L690.7 1357.5L693.1 1359.6L696.1 1358.4L698.5 1360.5L701.5 1359.4L703.8 1361.5L706.8 1360.4L709.1 1362.6L712.1 1361.6L714.4 1363.8L717.4 1362.8L719.7 1365.1L722.7 1364.1L724.9 1366.4L728 1365.5L730.2 1367.9L733.2 1367L735.4 1369.4L738.4 1368.6L740.5 1371L743.6 1370.2L745.7 1372.6L748.8 1371.8L750.8 1374.3L753.9 1373.5L756 1376L759.1 1375.2L761.1 1377.7L764.2 1376.9L766.2 1379.4L769.3 1378.6L771.4 1381.1L774.5 1380.5L776.4 1383.1L779.6 1382.5L781.5 1385.2L784.6 1384.7L786.4 1387.3L789.6 1386.9L791.4 1389.5L794.6 1389.2L796.3 1391.9L799.5 1391.6L801.1 1394.4L804.3 1394.3L805.8 1397.2L809 1397.1L810.4 1400L813.7 1400L815 1403L818.2 1403.1L819.5 1406.1L822.7 1406.4L823.8 1409.4L827 1409.9L828 1413L831.2 1413.6L831.9 1416.8L835 1417.7L835.6 1420.9L838.6 1422L838.9 1425.2L841.9 1426.5L842 1429.8L844.9 1431.3L844.7 1434.6L847.4 1436.3L847 1439.5L849.6 1441.4L849.1 1444.6L851.7 1446.5L851 1449.7L853.5 1451.8L852.7 1454.9L855 1457.1L854.1 1460.1L856.4 1462.4L855.4 1465.4L857.6 1467.7L856.5 1470.7L858.7 1473L857.6 1476L859.8 1478.3L858.6 1481.3L860.8 1483.7L859.6 1486.6L861.8 1489L860.6 1491.9L862.8 1494.3L861.6 1497.2L863.8 1499.6L862.6 1502.6L864.8 1504.9L863.6 1507.9L865.8 1510.2L864.6 1513.2L866.7 1515.6L865.5 1518.5L867.6 1520.9L866.4 1523.9L868.5 1526.3L867.2 1529.2L869.3 1531.6L868.1 1534.5L870.2 1537L868.9 1539.9L871 1542.3L869.7 1545.2L871.7 1547.7L870.4 1550.6L872.5 1553L871.2 1555.9L873.2 1558.4L871.9 1561.3L873.9 1563.8L872.6 1566.7L874.6 1569.1L873.2 1572L875.3 1574.5L873.9 1577.4L875.9 1579.8L874.6 1582.7L876.6 1585.2L875.2 1588.1L877.2 1590.6L875.9 1593.5L877.9 1595.9L876.5 1598.8L878.5 1601.3L877.1 1604.2L879.1 1606.7L877.8 1609.6L879.8 1612L878.4 1614.9L880.4 1617.4L879 1620.3L881 1622.8L879.6 1625.7L881.6 1628.2L880.2 1631L882.2 1633.5L880.8 1636.4L882.7 1638.9L881.3 1641.8L883.3 1644.3L881.9 1647.1L883.9 1649.7L882.4 1652.5L884.4 1655L883 1657.9L884.9 1660.4L883.5 1663.3L885.5 1665.8L884 1668.7L886 1671.2L884.5 1674L886.5 1676.6L885 1679.4L886.9 1682L885.5 1684.8L887.4 1687.3L885.9 1690.2L887.9 1692.7L886.4 1695.6L888.3 1698.1L886.8 1700.9L888.8 1703.5L887.3 1706.3L889.2 1708.9L887.7 1711.7L889.6 1714.3L888.1 1717.1L890 1719.7L888.5 1722.5L890.4 1725.1L888.8 1727.9L890.7 1730.5L889.1 1733.3L891 1735.9L889.4 1738.7L891.3 1741.3L889.7 1744.1L891.5 1746.7L889.9 1749.5L891.7 1752.1L890.1 1754.9L891.9 1757.5L887.5 1755L887.3 1749.6L887.1 1744.2L886.8 1738.8L886.6 1733.4L886.2 1728.1L885.9 1722.7L885.5 1717.3L885.1 1711.9L884.7 1706.5L884.2 1701.2L883.8 1695.8L883.4 1690.4L882.9 1685L882.4 1679.6L881.9 1674.3L881.4 1668.9L880.9 1663.5L880.4 1658.2L879.9 1652.8L879.3 1647.4L878.7 1642L878.2 1636.7L877.6 1631.3L877 1625.9L876.4 1620.6L875.8 1615.2L875.2 1609.9L874.6 1604.5L873.9 1599.1L873.3 1593.8L872.7 1588.4L872 1583.1L871.3 1577.7L870.7 1572.3L870 1567L869.3 1561.6L868.6 1556.3L867.8 1550.9L867.1 1545.6L866.3 1540.3L865.5 1534.9L864.7 1529.6L863.8 1524.3L862.9 1519L862 1513.6L861.1 1508.3L860.1 1503L859.1 1497.7L858.1 1492.4L857.1 1487.1L856.1 1481.8L855.1 1476.5L854 1471.2L852.8 1466L851.6 1460.8L850.2 1455.6L848.5 1450.5L846.7 1445.5L844.6 1440.6L842.4 1435.7L839.8 1431.1L836.8 1426.7L833.6 1422.6L830 1418.6L826.2 1414.9L822.2 1411.4L817.9 1408.2L813.6 1405.1L809.1 1402.2L804.5 1399.4L799.8 1396.7L795.1 1394.2L790.3 1391.9L785.4 1389.7L780.4 1387.5L775.5 1385.5L770.5 1383.6L765.4 1381.8L760.3 1380.1L755.2 1378.4L750 1376.8L744.9 1375.1L739.8 1373.5L734.6 1371.9L729.4 1370.4L724.3 1368.9L719.1 1367.6L713.8 1366.3L708.6 1365.2L703.3 1364.1L698 1363.1L692.7 1362.2L687.4 1361.3L682.1 1360.5L676.7 1359.9L671.4 1359.4L666 1358.9L660.7 1358.4L655.3 1358L649.9 1357.5Z" fill="#2c2726"/>
<path d="M285 1900C285 1895.8 284.2 1895 285 1875C285.8 1855 287.9 1812.5 290 1780C292.1 1747.5 294.6 1713.3 297.5 1680C300.4 1646.7 304.2 1609.2 307.5 1580C310.8 1550.8 313.8 1525 317.5 1505C321.2 1485 324.6 1472.5 330 1460C335.4 1447.5 341.7 1439.2 350 1430C358.3 1420.8 367.5 1412.1 380 1405C392.5 1397.9 409.2 1392.1 425 1387.5C440.8 1382.9 458.3 1379.8 475 1377.5C491.7 1375.2 508.3 1374.2 525 1374C541.7 1373.8 558.3 1374.2 575 1376C591.7 1377.8 611.7 1381.7 625 1385C638.3 1388.3 645.8 1392 655 1396C664.2 1400 673.4 1405.2 680 1409C686.6 1412.8 689.7 1414.7 694.5 1419C699.3 1423.3 704.8 1429 708.9 1435C713 1441 716.1 1447.6 719 1455.3C721.9 1463 724.1 1472.1 726.3 1481.3C728.5 1490.5 730.4 1500.5 732.1 1510.2C733.8 1519.9 735 1527.6 736.4 1539.2C737.8 1550.8 739.3 1564.5 740.8 1580C742.3 1595.5 743.2 1611.6 745.2 1632.4C747.2 1653.2 750.4 1680.6 752.5 1704.7C754.6 1728.8 756.6 1745.3 757.9 1777C759.2 1808.7 759.6 1857 760.5 1894.7C761.4 1932.4 763.1 1973.2 763.4 2003.3C763.7 2033.4 763.1 2056.3 762.3 2075.6C761.5 2094.9 760.2 2108.9 758.7 2119C757.2 2129.1 756.4 2131.8 753.3 2136C750.2 2140.2 746 2142.3 740 2144C734 2145.7 732.9 2145.9 717 2146C701.1 2146.1 671.2 2145.9 644.7 2144.4C618.2 2142.9 572.4 2138.2 557.9 2137L520 2137C516.7 2114.2 520 2029.5 500 2000C480 1970.5 433.3 1966.7 400 1960C366.7 1953.3 316.7 1960 300 1960Z" fill="#a3a3a3" stroke="#1f1b1a" stroke-width="1.5"/>
<path d="M431 1362.5C442.5 1362.4 479.3 1361.7 500 1362C520.7 1362.3 538.3 1363.5 555 1364.5C571.7 1365.5 584.2 1366.2 600 1368C615.8 1369.8 636.7 1372.5 650 1375C663.3 1377.5 670.2 1379.9 680 1382.9C689.8 1385.9 699.2 1388.9 708.9 1393C718.5 1397.1 729.4 1402.9 737.9 1407.5C746.4 1412.1 753.6 1416.4 759.6 1420.5C765.6 1424.6 769.9 1427.9 774 1432C778.1 1436.1 781.1 1439.2 784.2 1445C787.4 1450.8 790.2 1458.3 792.9 1466.8C795.5 1475.3 797.7 1486.1 800.1 1495.8C802.5 1505.5 805.2 1515 807.4 1524.7C809.6 1534.4 811.5 1544.5 813.2 1553.7C814.9 1562.9 816.1 1570 817.5 1580C818.9 1590 820.1 1603.7 821.3 1613.7C822.5 1623.7 823.2 1624.8 824.9 1640C826.5 1655.2 829.1 1681.9 831.2 1704.7C833.3 1727.5 836 1759.5 837.5 1777C839 1794.5 839.6 1796.4 840.2 1810C840.8 1823.6 840.7 1832.3 841 1858.5C841.3 1884.7 842.5 1933.8 842 1967C841.5 2000.2 839.8 2033.4 838.3 2057.5C836.8 2081.6 834.4 2098.8 832.9 2111.8C831.4 2124.8 829.8 2131.4 829.2 2135.3" fill="none" stroke="#1f1b1a" stroke-width="2"/>
<path d="M757.5 2128Q752 2152 731 2169.5" fill="none" stroke="#1f1b1a" stroke-width="1.5"/>
<path d="M551 1374L576 1363.5" fill="none" stroke="#1f1b1a" stroke-width="2"/>
<clipPath id="cin"><path d="M285 1900C285 1895.8 284.2 1895 285 1875C285.8 1855 287.9 1812.5 290 1780C292.1 1747.5 294.6 1713.3 297.5 1680C300.4 1646.7 304.2 1609.2 307.5 1580C310.8 1550.8 313.8 1525 317.5 1505C321.2 1485 324.6 1472.5 330 1460C335.4 1447.5 341.7 1439.2 350 1430C358.3 1420.8 367.5 1412.1 380 1405C392.5 1397.9 409.2 1392.1 425 1387.5C440.8 1382.9 458.3 1379.8 475 1377.5C491.7 1375.2 508.3 1374.2 525 1374C541.7 1373.8 558.3 1374.2 575 1376C591.7 1377.8 611.7 1381.7 625 1385C638.3 1388.3 645.8 1392 655 1396C664.2 1400 673.4 1405.2 680 1409C686.6 1412.8 689.7 1414.7 694.5 1419C699.3 1423.3 704.8 1429 708.9 1435C713 1441 716.1 1447.6 719 1455.3C721.9 1463 724.1 1472.1 726.3 1481.3C728.5 1490.5 730.4 1500.5 732.1 1510.2C733.8 1519.9 735 1527.6 736.4 1539.2C737.8 1550.8 739.3 1564.5 740.8 1580C742.3 1595.5 743.2 1611.6 745.2 1632.4C747.2 1653.2 750.4 1680.6 752.5 1704.7C754.6 1728.8 756.6 1745.3 757.9 1777C759.2 1808.7 759.6 1857 760.5 1894.7C761.4 1932.4 763.1 1973.2 763.4 2003.3C763.7 2033.4 763.1 2056.3 762.3 2075.6C761.5 2094.9 760.2 2108.9 758.7 2119C757.2 2129.1 756.4 2131.8 753.3 2136C750.2 2140.2 746 2142.3 740 2144C734 2145.7 732.9 2145.9 717 2146C701.1 2146.1 671.2 2145.9 644.7 2144.4C618.2 2142.9 572.4 2138.2 557.9 2137L520 2137C516.7 2114.2 520 2029.5 500 2000C480 1970.5 433.3 1966.7 400 1960C366.7 1953.3 316.7 1960 300 1960Z"/></clipPath>
<g clip-path="url(#cin)">
<path d="M300 1596L497 1603L497 1612L300 1605Z" fill="#656466"/>
<rect x="332" y="1600" width="131" height="29" fill="#52ab70"/>
<path d="M291 1648L472.5 1652L472.5 1847L287 1836Z" fill="#a9a9a9"/>
<path d="M329 1650L462.5 1652L462.5 1812.5L328 1808Z" fill="#86b99b"/>
<path d="M291 1648L472.5 1652L472.5 1847L287 1836Z" fill="url(#mesh)"/>
<path d="M322 1628L473 1632" stroke="#1a1a1a" stroke-width="2.5" fill="none"/>
<rect x="312" y="1622" width="12" height="32" rx="3" fill="#1a1a1a"/>
<rect x="470" y="1606" width="8.5" height="245" fill="#656466"/><rect x="478.5" y="1606" width="17" height="38" fill="#656466"/><rect x="483.5" y="1613.5" width="10" height="27" fill="#a9a9ab"/>
<path d="M495 1645L495 1610Q495 1590 515 1590L715 1591Q732 1591 733 1606L733 1647Z" fill="#474342" stroke="#2a2625" stroke-width="1.5"/>
<rect x="692" y="1607.3" width="22.7" height="37.4" rx="4" fill="#353130"/><circle cx="705.1" cy="1616.9" r="6" fill="#2b2827" stroke="#bdbdbd" stroke-width="1.6"/><circle cx="695.8" cy="1636.9" r="4.6" fill="#2b2827" stroke="#bdbdbd" stroke-width="1.4"/>
<path d="M478 1642.5L748 1649.5L748 1658L478 1651Z" fill="#656466"/>
<path d="M492.500 1682L600 1655.500Q625 1651 633 1662Q640 1672 643 1689Z" fill="#a8d4f1" stroke="#4d8fc4" stroke-width="1.5"/>
<path d="M478 1681L752 1693L752 1703L478 1691Z" fill="#656466"/>
<path d="M487.500 1702L622.500 1706L622.500 1731L487.500 1727Z" fill="#f4f4f4" stroke="#8a8a8c" stroke-width="1.2"/>
<path d="M478 1723.5L658 1731L658 1740L478 1732.5Z" fill="#656466"/>
<rect x="654" y="1698" width="10" height="165" fill="#656466"/>
<rect x="701" y="1700" width="10" height="165" fill="#656466"/>
<path d="M286 1836L760 1864L760 1880L286 1850Z" fill="#656466"/>
<path d="M671.7 1621Q671.7 1606 681.5 1604Q691.2 1606 691.2 1621Z" fill="#e3bd5c"/>
<rect x="671.7" y="1621" width="19.5" height="5.2" fill="#f3eab4"/>
<rect x="671.7" y="1626.2" width="19.5" height="64.5" fill="#e3be5e"/>
<path d="M678.6 1626.2H683.4V1719L681 1727.5L678.6 1719Z" fill="#f1edcb" stroke="#b9a24e" stroke-width="0.6"/>
<rect x="724.7" y="1626" width="13.4" height="65" fill="#3b3736"/>
<path d="M724.7 1621.5Q724.7 1606.5 731.4 1604.7Q738.1 1606.5 738.1 1621.5Z" fill="#2f2b2a"/>
<rect x="724.7" y="1621.2" width="13.4" height="5.6" fill="#f4f4f4"/>
<path d="M729.4 1627H731.8V1720L730.6 1727.5L729.4 1720Z" fill="#e6e6e6" stroke="#777" stroke-width="0.5"/>
</g>
<rect x="667.2" y="1400" width="17.2" height="80" fill="#1c1918"/><rect x="671.3" y="1400" width="8.5" height="80" fill="#e9e9e9"/>
<path d="M657 1483Q657 1477 663 1477L688 1477Q694 1477 694 1483L696 1522Q696 1530 688 1530L662 1530Q655 1530 655 1522Z" fill="#3a3635" stroke="#1f1b1a" stroke-width="1.5"/>
<circle cx="675.500" cy="1509" r="9" fill="#474342" stroke="#1f1b1a" stroke-width="1.5"/>
<rect x="671" y="1530" width="8" height="9" fill="#2a2625"/>
<circle cx="674.4" cy="1554.3" r="18.4" fill="none" stroke="#f6f6f6" stroke-width="3"/>
</g>
<g id="front">
<path d="M100 1935C100.7 1933.3 101.5 1928.3 104 1925C106.5 1921.7 107.3 1919.6 115 1915C122.7 1910.4 135.8 1903.2 150 1897.5C164.2 1891.8 183.3 1884.8 200 1881C216.7 1877.2 233.3 1876.4 250 1875C266.7 1873.6 283.3 1872.1 300 1872.5C316.7 1872.9 333.3 1875 350 1877.5C366.7 1880 383.3 1883.8 400 1887.5C416.7 1891.2 433.3 1895.8 450 1900C466.7 1904.2 488.7 1908.8 500 1912.8C511.3 1916.8 513.2 1918.9 518 1923.7C522.8 1928.5 526 1933.4 529 1941.8C532 1950.2 533.5 1958 536.2 1974.3C538.9 1990.6 542.2 2016.5 545.2 2039.4C548.2 2062.3 551.9 2087.7 554.3 2111.8C556.7 2135.9 557.9 2161.2 559.7 2184.2C561.5 2207.2 562.9 2220.2 565 2250C567.1 2279.8 570.7 2329.5 572.5 2362.8C574.3 2396.1 575.1 2422.9 576 2450C576.9 2477.1 577.8 2500.6 578 2525.6C578.2 2550.6 577.8 2583.7 577.5 2600C577.2 2616.3 577 2617.3 576.3 2623.3C575.5 2629.3 575 2632.6 573 2636C571 2639.4 567.2 2642.3 564 2644C560.8 2645.7 561.6 2645.1 553.5 2646C545.4 2646.9 535.4 2648.6 515.5 2649.3C495.6 2650 465.6 2651.1 434 2650.4C402.4 2649.7 361.8 2647.7 325.6 2645C289.4 2642.3 240.9 2636.9 217 2634C193.1 2631.1 198.7 2630.9 182 2627.5C165.3 2624.1 133.1 2617.7 116.8 2613.4C100.5 2609.1 92.3 2604.9 84.3 2601.6C76.3 2598.3 72.8 2596.6 69 2593.8C65.2 2591 63.5 2588.6 61.5 2585C59.5 2581.4 58.2 2578.2 57 2572C55.8 2565.8 54.6 2555.7 54 2548C53.4 2540.3 53.2 2541.9 53.2 2525.6C53.2 2509.3 53.3 2475.1 54 2450C54.7 2424.9 56.1 2404.2 57.5 2375C58.9 2345.8 60.4 2308.3 62.5 2275C64.6 2241.7 67.1 2208.3 70 2175C72.9 2141.7 76.7 2104.2 80 2075C83.3 2045.8 86.7 2023.3 90 2000C93.3 1976.7 98.3 1945.8 100 1935Z" fill="#474342" stroke="#1f1b1a" stroke-width="2"/>
<path d="M98.8 1934.6L97.6 1928.9L102.3 1925.2L103.2 1919.2L109 1917.5L111.6 1912.3L117.4 1912.1L120.3 1907.2L126 1907.3L129.1 1902.5L134.8 1902.8L138.1 1898.2L143.7 1898.7L147.2 1894.2L152.8 1895L156.4 1890.6L162 1891.5L165.7 1887.1L171.3 1888.1L175 1883.9L180.6 1885L184.5 1880.9L190 1882.2L194.1 1878.2L199.6 1879.8L203.9 1876L209.3 1877.9L213.8 1874.4L219 1876.5L223.6 1873.1L228.8 1875.4L233.5 1872.2L238.6 1874.6L243.3 1871.4L248.4 1873.8L253 1870.6L258.1 1873L262.8 1869.8L267.9 1872.2L272.6 1869.1L277.7 1871.6L282.5 1868.6L287.5 1871.2L292.5 1868.3L297.4 1871.2L302.4 1868.5L307.2 1871.5L312.3 1869L317.1 1872.2L322.2 1869.8L326.8 1873.1L332.1 1870.9L336.6 1874.3L341.8 1872.2L346.3 1875.6L351.6 1873.6L356 1877.1L361.4 1875.2L365.7 1878.9L371.1 1877.1L375.3 1880.8L380.7 1879L384.9 1882.8L390.3 1881.1L394.5 1884.9L399.9 1883.3L404.1 1887.1L409.5 1885.5L413.6 1889.4L419.1 1887.8L423.2 1891.8L428.6 1890.3L432.7 1894.2L438.1 1892.7L442.1 1896.6L447.6 1895.2L451.6 1899.1L457 1897.5L461.1 1901.4L466.5 1899.8L470.7 1903.6L476.1 1902.1L480.2 1905.9L485.7 1904.4L489.7 1908.4L495.3 1907L499.2 1911.2L505 1910.3L508.4 1915.1L514.3 1915.6L516.5 1920.9L514.9 1923L507.1 1917.4L498.4 1913.6L489.1 1910.9L479.6 1908.5L470.1 1906.2L460.5 1903.9L451 1901.6L441.5 1899.2L432 1896.7L422.5 1894.3L413 1891.9L403.5 1889.6L394 1887.5L384.4 1885.4L374.8 1883.3L365.2 1881.4L355.6 1879.7L345.9 1878.2L336.3 1876.9L326.6 1875.7L316.8 1874.7L307.1 1874.1L297.4 1873.8L287.6 1873.8L277.9 1874.2L268.1 1874.8L258.3 1875.6L248.6 1876.4L238.8 1877.2L229.1 1878L219.4 1879.1L209.7 1880.4L200.2 1882.3L190.7 1884.7L181.4 1887.5L172.1 1890.6L162.9 1893.9L153.8 1897.4L144.8 1901.1L135.9 1905.2L127.2 1909.6L118.7 1914.3L110.6 1919.5L104.5 1926.5L101.2 1935.4Z" fill="#2c2726"/>
<path d="M519.1 1922.9L523.2 1924.8L523.6 1929.3L527.8 1931.4L527.8 1936L531.7 1938.8L530.9 1943.4L534.3 1946.6L533.1 1951L536.2 1954.4L534.8 1958.7L537.8 1962.1L536.2 1966.4L539.1 1969.9L537.5 1974.1L540.4 1977.6L538.7 1981.8L541.6 1985.3L539.8 1989.5L542.7 1993.1L540.9 1997.3L543.7 2000.8L542 2005L544.8 2008.6L543 2012.7L545.8 2016.3L544 2020.5L546.8 2024L545 2028.2L547.8 2031.8L546.1 2035.9L548.8 2039.5L547.1 2043.7L549.9 2047.2L548.1 2051.4L550.9 2055L549.2 2059.1L552 2062.7L550.2 2066.9L553 2070.4L551.2 2074.6L554 2078.2L552.2 2082.3L555 2085.9L553.2 2090.1L555.9 2093.7L554.1 2097.8L556.8 2101.5L555 2105.6L557.7 2109.3L555.8 2113.4L558.4 2117.1L556.5 2121.2L559.1 2124.9L557.1 2128.9L559.7 2132.7L557.7 2136.7L560.3 2140.5L558.3 2144.5L560.8 2148.2L558.8 2152.3L561.4 2156L559.3 2160.1L561.9 2163.8L559.8 2167.9L562.4 2171.6L560.4 2175.6L562.9 2179.4L560.9 2183.4L563.5 2187.1L561.5 2191.2L564.1 2194.9L562.2 2199L564.8 2202.7L562.8 2206.7L565.4 2210.4L563.4 2214.5L566 2218.2L564 2222.3L566.7 2226L564.7 2230.1L567.3 2233.8L565.3 2237.8L567.9 2241.5L565.9 2245.6L568.6 2249.3L563.4 2245.8L562.7 2238L562.1 2230.3L561.5 2222.5L560.8 2214.7L560.2 2206.9L559.6 2199.2L559 2191.4L558.4 2183.6L557.8 2175.8L557.2 2168L556.7 2160.2L556.2 2152.5L555.7 2144.7L555.1 2136.9L554.5 2129.1L553.9 2121.4L553.2 2113.6L552.4 2105.9L551.5 2098.1L550.6 2090.4L549.6 2082.7L548.6 2074.9L547.6 2067.2L546.6 2059.5L545.5 2051.7L544.5 2044L543.5 2036.3L542.5 2028.5L541.5 2020.8L540.4 2013.1L539.4 2005.4L538.4 1997.6L537.3 1989.9L536.1 1982.2L534.9 1974.5L533.6 1966.8L532.2 1959.2L530.6 1951.6L528.5 1944.2L525.5 1937.2L521.5 1930.8L516.9 1924.5Z" fill="#2c2726"/>
<path d="M107 2046C106.2 2055 104.5 2066 102.5 2100C100.5 2134 97.4 2200 95 2250C92.6 2300 89.8 2361.3 88 2400C86.2 2438.7 83.3 2464.5 84 2482C84.7 2499.5 87.9 2498.7 92 2505C96.1 2511.3 100.5 2515 108.5 2520C116.5 2525 128.2 2530.9 140 2535C151.8 2539.1 157.1 2541.2 179 2544.6C200.9 2548 240.5 2552.8 271.3 2555.5C302.1 2558.2 340.5 2560.6 363.6 2561C386.7 2561.4 398.3 2559.4 410 2558C421.7 2556.6 426.5 2555.4 434 2552.7C441.5 2550 449.6 2545.6 455 2542C460.4 2538.4 462 2536.5 466.7 2531C471.4 2525.5 480.3 2512.7 483 2509" fill="none" stroke="#1f1b1a" stroke-width="1.6"/>
<path d="M500 1915C498.8 1929.2 495.4 1969.2 492.5 2000C489.6 2030.8 485.4 2066.7 482.5 2100C479.6 2133.3 476.7 2166.7 475 2200C473.3 2233.3 472.5 2266.7 472.5 2300C472.5 2333.3 473.8 2371.5 475 2400C476.2 2428.5 477.8 2448.2 480 2471C482.2 2493.8 483.4 2516.6 488.4 2536.5C493.4 2556.4 500.9 2574.4 510 2590.7C519 2606.9 533.4 2624.9 542.7 2634C552 2643.1 562.1 2643.2 566 2645" fill="none" stroke="#1f1b1a" stroke-width="1.6"/>
<path d="M495 1915C493.8 1929.2 490.4 1969.2 487.5 2000C484.6 2030.8 480.4 2066.7 477.5 2100C474.6 2133.3 471.7 2166.7 470 2200C468.3 2233.3 467.5 2266.7 467.5 2300C467.5 2333.3 468.8 2371.5 470 2400C471.2 2428.5 472.8 2448.2 475 2471C477.2 2493.8 482 2525.6 483.4 2536.5" fill="none" stroke="#2a2625" stroke-width="1" stroke-dasharray="3 2"/>
<path d="M84 2482C82.5 2491.7 77.7 2522 75 2540C72.3 2558 69.2 2581.7 68 2590" fill="none" stroke="#1f1b1a" stroke-width="1.2"/>
<path d="M107 2046C119.2 2047.2 154.5 2050.5 180 2053C205.5 2055.5 238.2 2059.3 260 2061C281.8 2062.7 291 2063.4 311 2063C331 2062.6 359.3 2059.2 380 2058.5C400.7 2057.8 417.7 2058 435 2058.5C452.3 2059 475.8 2061 484 2061.5" fill="none" stroke="#1f1b1a" stroke-width="2"/>
<path d="M311 2063C322.5 2062.4 359.8 2060.2 380 2059.5C400.2 2058.8 423.3 2059.1 432 2059" fill="none" stroke="#1d1918" stroke-width="4"/>
<rect x="252" y="1930" width="52" height="31" rx="5" fill="#141212" stroke="#d8d8d8" stroke-width="1.5"/>
<path d="M66 1970L201 1886Q208 1881 214 1888L328 2032Q336 2042 328 2048L311 2063Q290 2063 260 2061L180 2053L110 2046Q106 2042 100 2034L60 1984Q57 1976 66 1970Z" fill="#d1d1d1" stroke="#e2e2e2" stroke-width="1.5"/>
<path d="M429.5 2064Q429.5 2054 440 2054Q450.5 2054 450.5 2064L449.5 2113Q449 2121 440 2121Q431.5 2121 431 2113Z" fill="#161414" stroke="#3a3635" stroke-width="1"/>
<circle cx="440.2" cy="2065.5" r="6.5" fill="#4a4645" stroke="#111" stroke-width="1"/>
<rect x="434.7" y="2093.7" width="11.6" height="9.4" fill="#ee202b"/>
<path d="M178 2543.5L364 2558L364 2566L178 2551.5Z" fill="#e0222b"/>
<text transform="translate(423.5 2431.5) rotate(-90)" font-size="29.5" font-weight="700" fill="#dedede" textLength="102" lengthAdjust="spacingAndGlyphs">SWICCI</text>
</g>
<g id="boxes">
<text x="749.7" y="242" text-anchor="middle" font-size="62" font-weight="700" fill="#b03c42" textLength="935" lengthAdjust="spacingAndGlyphs">FUNCTIONAL POCKET DISPLAY</text>
<rect x="36" y="501" width="738.500" height="262" rx="14" fill="#df9899"/>
<path d="M782 587.500L852.500 627.500L782 667.500Z" fill="#df9899"/>
<text x="85.5" y="593" font-size="48.2" font-weight="700" fill="#0d0b0b">Third layer</text>
<text x="84" y="690" font-size="48.2" fill="#0d0b0b">Laptop pocket*1</text>
<rect x="61" y="858" width="382.500" height="332" rx="14" fill="#df9899"/>
<path d="M450.700 1094.500L520 1133.500L450.700 1174Z" fill="#df9899"/>
<text x="87" y="941.500" font-size="48.2" font-weight="700" fill="#0d0b0b">Second layer</text>
<text x="85.5" y="1040.500" font-size="48.4" fill="#0d0b0b">Convenient</text>
<text x="85.5" y="1100" font-size="48.4" fill="#0d0b0b">pocket*2</text>
<rect x="999" y="1793.500" width="408" height="507.500" rx="14" fill="#df9899"/>
<path d="M992.800 1945.500L923.300 1984.500L992.800 2025Z" fill="#df9899"/>
<text x="1213.500" y="1878" text-anchor="middle" font-size="48.2" font-weight="700" fill="#0d0b0b">First layer</text>
<text x="1011.5" y="1970.500" font-size="45.2" fill="#0d0b0b">Zipper mesh bag*1</text>
<text x="1011" y="2059" font-size="45.2" fill="#0d0b0b">Small pocket*4</text>
<text x="1013" y="2147.500" font-size="45.2" fill="#0d0b0b">Pen pocket*3</text>
<text x="1013" y="2236.500" font-size="45.2" fill="#0d0b0b">Keychain*1</text>
<rect x="668.500" y="2351" width="408" height="302" rx="14" fill="#df9899"/>
<path d="M660.700 2477L592 2516L660.700 2557Z" fill="#df9899"/>
<text x="872.500" y="2468.500" text-anchor="middle" font-size="48.2" font-weight="700" fill="#0d0b0b">Front pocket</text>
<text x="872.500" y="2561.500" text-anchor="middle" font-size="45" fill="#0d0b0b">Front zipper bag*1</text>
</g>
</svg>
</body></html>
